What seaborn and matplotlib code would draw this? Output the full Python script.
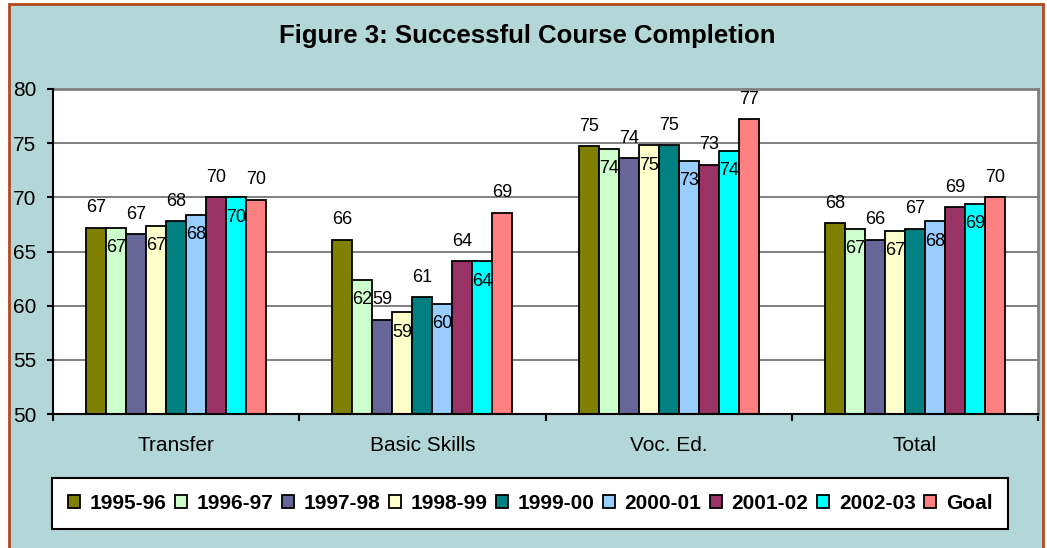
import numpy as np
import pandas as pd
import matplotlib
matplotlib.use("Agg")
import matplotlib.pyplot as plt
import matplotlib.patches as mpatches
from matplotlib.ticker import FixedLocator
import seaborn as sns

categories = ["Transfer", "Basic Skills", "Voc. Ed.", "Total"]
series = ["1995-96", "1996-97", "1997-98", "1998-99", "1999-00",
          "2000-01", "2001-02", "2002-03", "Goal"]

# one list per series, values for Transfer, Basic Skills, Voc. Ed., Total
y1995 = [67.2, 66.1, 74.7, 67.6]
y1996 = [67.2, 62.4, 74.5, 67.1]
y1997 = [66.6, 58.7, 73.6, 66.1]
y1998 = [67.4, 59.4, 74.8, 66.9]
y1999 = [67.8, 60.8, 74.8, 67.1]
y2000 = [68.4, 60.2, 73.4, 67.8]
y2001 = [70.0, 64.1, 73.0, 69.1]
y2002 = [70.0, 64.1, 74.3, 69.4]
goal = [69.8, 68.6, 77.2, 70.0]

colors = ["#808000", "#CCFFCC", "#666699", "#FFFFCC", "#008080",
          "#99CCFF", "#993366", "#00FFFF", "#FF8080"]

BG = "#B3D6D8"
BORDER = "#B04A1E"


def build_frame():
    rows = []
    for name, vals in zip(series, [y1995, y1996, y1997, y1998, y1999,
                                   y2000, y2001, y2002, goal]):
        for cat, v in zip(categories, vals):
            rows.append({"category": cat, "year": name, "value": v})
    return pd.DataFrame(rows)


def main():
    df = build_frame()

    sns.set_style("white")
    plt.rcParams["font.family"] = ["Liberation Sans", "DejaVu Sans"]
    plt.rcParams["text.color"] = "black"
    plt.rcParams["xtick.color"] = "black"
    plt.rcParams["ytick.color"] = "black"

    W, H = 1047, 548
    fig = plt.figure(figsize=(W / 100, H / 100), dpi=100)
    fig.patch.set_facecolor("white")

    # outer chart frame, kept behind the axes
    frame = mpatches.Rectangle((9 / W, 1 - 560 / H), (1043 - 9) / W, (560 - 4) / H,
                               transform=fig.transFigure, facecolor=BG,
                               edgecolor=BORDER, linewidth=2, zorder=-5)
    fig.patches.append(frame)

    ax = fig.add_axes([53 / W, 1 - 414 / H, (1038 - 53) / W, (414 - 89) / H])
    ax.set_facecolor("white")

    sns.barplot(data=df, x="category", y="value", hue="year",
                order=categories, hue_order=series,
                palette=dict(zip(series, colors)), width=0.731,
                edgecolor="black", linewidth=1.3, saturation=1, ax=ax,
                zorder=3)

    ax.set_ylim(50, 80)
    ax.set_yticks(np.arange(50, 81, 5))
    ax.set_xlim(-0.5, len(categories) - 0.5)
    ax.grid(axis="y", color="#808080", linewidth=1.4, zorder=0)
    ax.set_axisbelow(True)
    ax.set_xlabel("")
    ax.set_ylabel("")

    for side in ["top", "right"]:
        ax.spines[side].set_color("#808080")
        ax.spines[side].set_linewidth(2)
    for side in ["left", "bottom"]:
        ax.spines[side].set_color("black")
        ax.spines[side].set_linewidth(1.5)
        ax.spines[side].set_zorder(5)

    ax.tick_params(axis="y", direction="out", length=4, width=1.5,
                   color="black", pad=8, labelsize=15, left=True)
    ax.tick_params(axis="x", which="major", length=0, pad=16, labelsize=15)
    ax.xaxis.set_minor_locator(FixedLocator(np.arange(-0.5, len(categories), 1)))
    ax.tick_params(axis="x", which="minor", direction="out", length=5,
                   width=1.5, color="black", bottom=True)

    # data labels, alternating above the bar and just inside its top
    for i, cont in enumerate(ax.containers):
        for bar in cont:
            h = bar.get_height()
            x = bar.get_x() + bar.get_width() / 2
            dy = 20 if i % 2 == 0 else -20
            ax.annotate(f"{h:.0f}", (x, h), xytext=(0, dy),
                        textcoords="offset pixels", ha="center", va="center",
                        fontsize=13, color="black", zorder=6)

    handles, labels = ax.get_legend_handles_labels()
    if ax.get_legend() is not None:
        ax.get_legend().remove()
    for hnd in handles:
        hnd.set_edgecolor("black")
        hnd.set_linewidth(1.3)
    leg = fig.legend(handles, labels, ncol=9, loc="center",
                     bbox_to_anchor=(530 / W, 1 - 503.5 / H),
                     prop={"weight": "bold", "size": 15},
                     handlelength=0.6, handleheight=0.6, handletextpad=0.45,
                     columnspacing=0.4, borderpad=0.75, frameon=True,
                     fancybox=False, edgecolor="black", facecolor="white",
                     framealpha=1)
    leg.get_frame().set_linewidth(1.5)

    fig.text(527 / W, 1 - 36 / H, "Figure 3: Successful Course Completion",
             ha="center", va="center", fontsize=18.5, fontweight="bold")

    fig.savefig("out.png", dpi=100, facecolor=fig.get_facecolor())
    plt.close(fig)


if __name__ == "__main__":
    main()
